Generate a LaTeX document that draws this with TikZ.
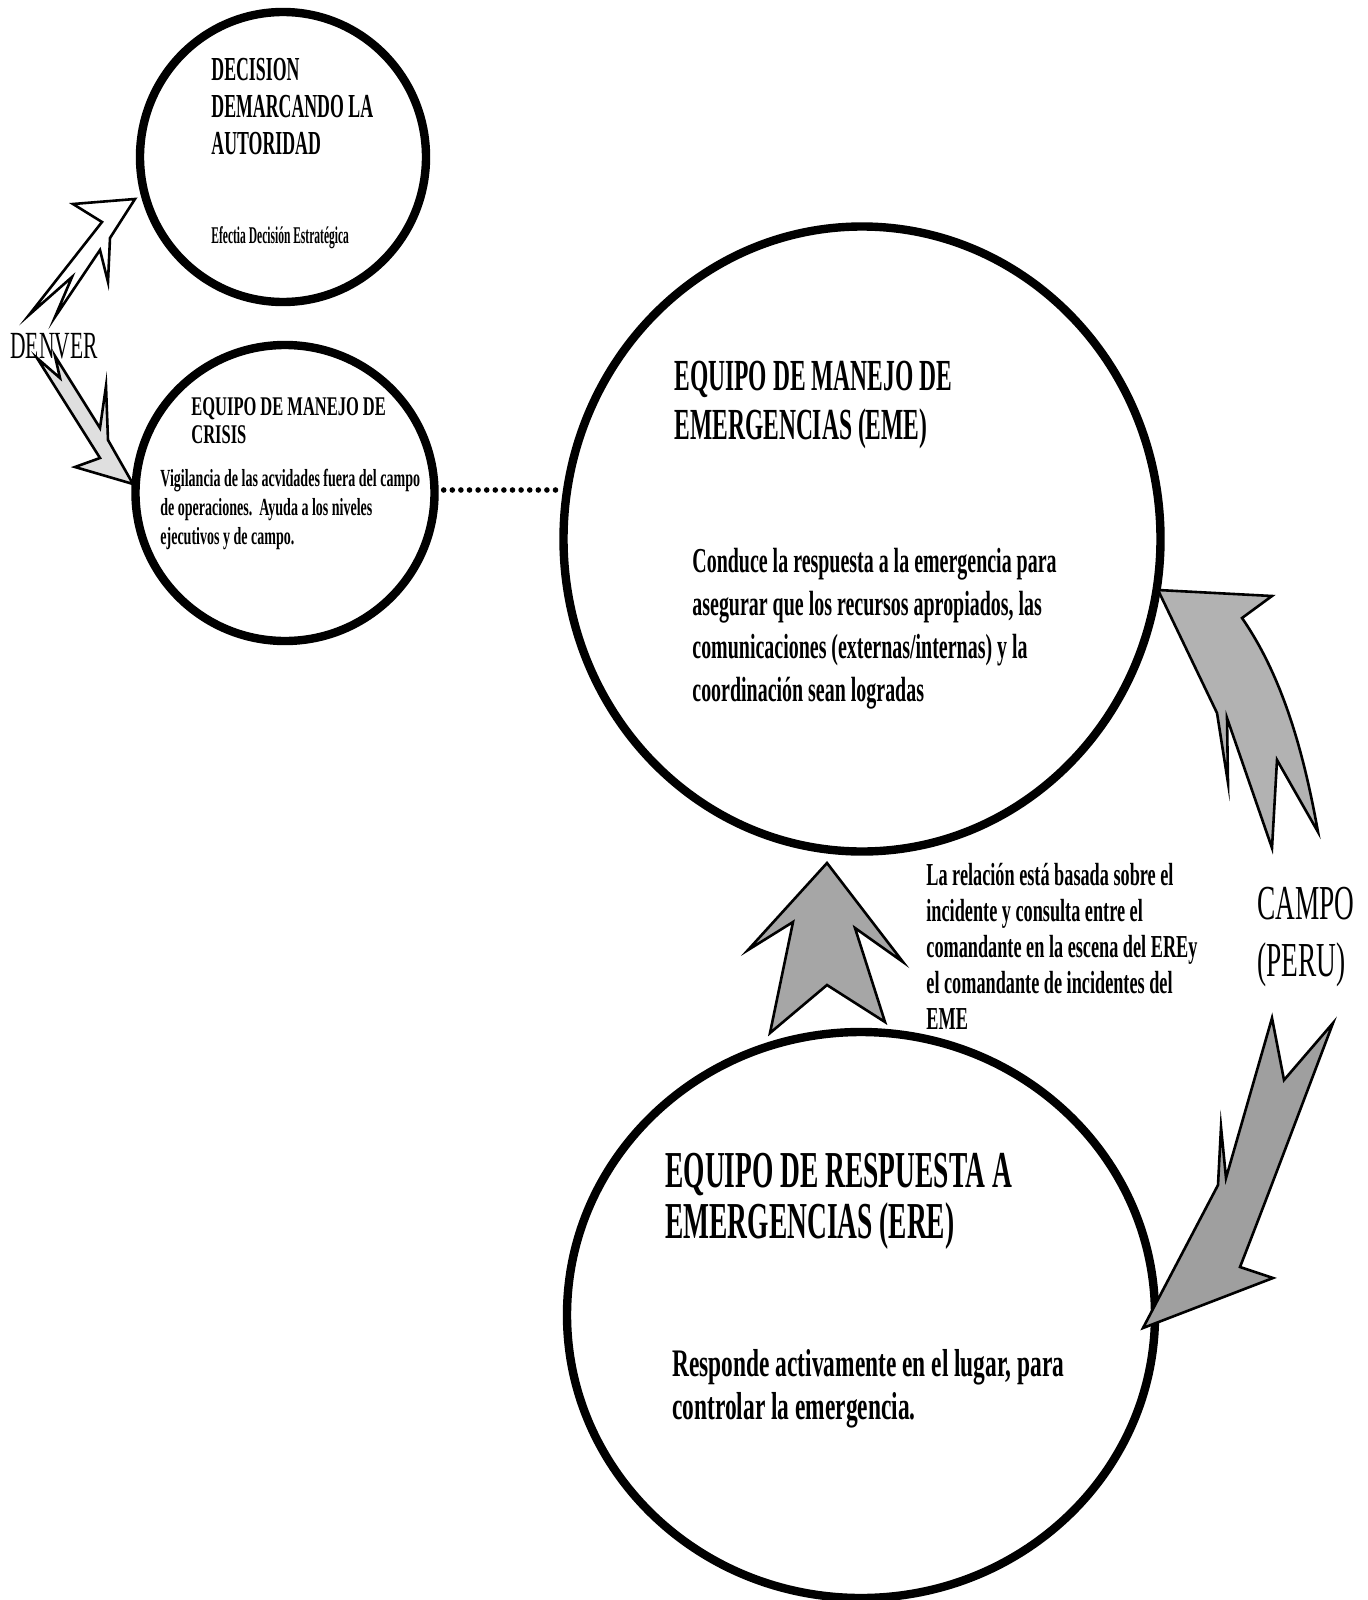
\documentclass[tikz,border=0pt]{standalone}
\usepackage{fontspec}
\setmainfont{Liberation Serif}
\newfontfamily\ttlfont[FakeStretch=0.56]{Liberation Serif}
\newfontfamily\ttlbold[FakeStretch=0.53]{Liberation Serif}
\newfontfamily\ttlwide[FakeStretch=0.61]{Liberation Serif}
\newfontfamily\bodyfont[FakeStretch=0.57]{Liberation Serif}
\newfontfamily\widebody[FakeStretch=0.6]{Liberation Serif}
\newfontfamily\tinyfont[FakeStretch=0.48]{Liberation Serif}
\usetikzlibrary{shapes.geometric}
\begin{document}
\begin{tikzpicture}[x=0.5pt,y=-0.5pt,
  circ/.style={draw, ellipse, line width=4.2pt, inner sep=0pt},
  txt/.style={anchor=north west, inner sep=0pt, align=left},
  arr/.style={draw=black, line width=1.3pt, line join=miter, miter limit=20},
  dotline/.style={line width=2.8pt, line cap=round, dash pattern=on 0pt off 4.3pt}
]
\useasboundingbox[fill=white] (0,0) rectangle (1368,1600);

% circles
\node[circ, minimum width=143pt, minimum height=145pt] (dec) at (283,157) {};
\node[circ, minimum width=149.5pt, minimum height=148pt] (cri) at (285,493) {};
\node[circ, minimum width=298.5pt, minimum height=312.5pt] (eme) at (862,539) {};
\node[circ, minimum width=294pt, minimum height=283pt] (ere) at (861,1315) {};

% dotted link
\draw[dotline] ([xshift=2.5pt,yshift=1.5pt]cri.east) -- ([xshift=1pt,yshift=1.5pt]cri.east -| eme.west);

% texts
\node[txt, font={\ttlbold\bfseries\fontsize{16.8}{18.5}\selectfont}] (dectitle) at (211,58)
  {DECISION\\DEMARCANDO LA\\AUTORIDAD};
\node[txt, font={\tinyfont\bfseries\fontsize{12}{14}\selectfont}] (decsub) at (211,226)
  {Efectia Decisión Estratégica};
\node[txt, font={\ttlwide\bfseries\fontsize{13.5}{14}\selectfont}] (critit) at (191,397)
  {EQUIPO DE MANEJO DE\\CRISIS};
\node[txt, font={\bodyfont\bfseries\fontsize{12.3}{14.5}\selectfont}] (cribody) at (160,469)
  {Vigilancia de las acvidades fuera del campo\\de operaciones.\ \ Ayuda a los niveles\\ejecutivos y de campo.};
\node[txt, font={\ttlfont\fontsize{19.2}{22}\selectfont}] (denver) at (10,333) {DENVER};
\node[txt, font={\ttlbold\bfseries\fontsize{22.2}{24.5}\selectfont}] (emetit) at (674,361)
  {EQUIPO DE MANEJO DE\\EMERGENCIAS (EME)};
\node[txt, font={\bodyfont\bfseries\fontsize{17.5}{21.5}\selectfont}] (emebody) at (692,548)
  {Conduce la respuesta a la emergencia para\\asegurar que los recursos apropiados, las\\comunicaciones (externas/internas) y la\\coordinación sean logradas};
\node[txt, font={\bodyfont\bfseries\fontsize{16}{18}\selectfont}] (rel) at (926,863)
  {La relación está basada sobre el\\incidente y consulta entre el\\comandante en la escena del EREy\\el comandante de incidentes del\\EME};
\node[txt, font={\ttlfont\fontsize{24.4}{28.5}\selectfont}] (campo) at (1257,887)
  {CAMPO\\(PERU)};
\node[txt, font={\ttlbold\bfseries\fontsize{25.9}{25.5}\selectfont}] (eretit) at (665,1153)
  {EQUIPO DE RESPUESTA A\\EMERGENCIAS (ERE)};
\node[txt, font={\widebody\bfseries\fontsize{19.5}{21.5}\selectfont}] (erebody) at (672,1349)
  {Responde activamente en el lugar, para\\controlar la emergencia.};

% DENVER arrows
\draw[arr, fill=white] (135,199) -- (73,204) -- (102,222) -- (29,315) -- (72,277)
  -- (55,317) -- (100,250) -- (108,282) -- (110,238) -- cycle;
\draw[arr, fill=gray!25] (133,484) -- (75,467) -- (100,458) -- (37,358) -- (60,378)
  -- (55,356) -- (100,428) -- (106,386) -- (108,440) -- cycle;

% central up arrow
\draw[arr, fill=gray!70] (827,863) -- (903,962) -- (855,928) -- (885,1022) -- (827,985)
  -- (770,1033) -- (793,922) -- (748,950) -- cycle;

% CAMPO arrows
\draw[arr, fill=gray!60] (1158,590) -- (1272,596) -- (1242,618)
  .. controls (1285,680) and (1305,760) .. (1318,832) -- (1277,760) -- (1272,848)
  -- (1227,718) -- (1228,783) -- (1217,713) -- cycle;
\draw[arr, fill=gray!75] (1272,1018) -- (1284,1080) -- (1333,1023)
  .. controls (1300,1110) and (1270,1190) .. (1240,1267) -- (1273,1278) -- (1143,1328)
  -- (1218,1185) -- (1221,1127) -- (1226,1178) -- cycle;
\end{tikzpicture}
\end{document}
